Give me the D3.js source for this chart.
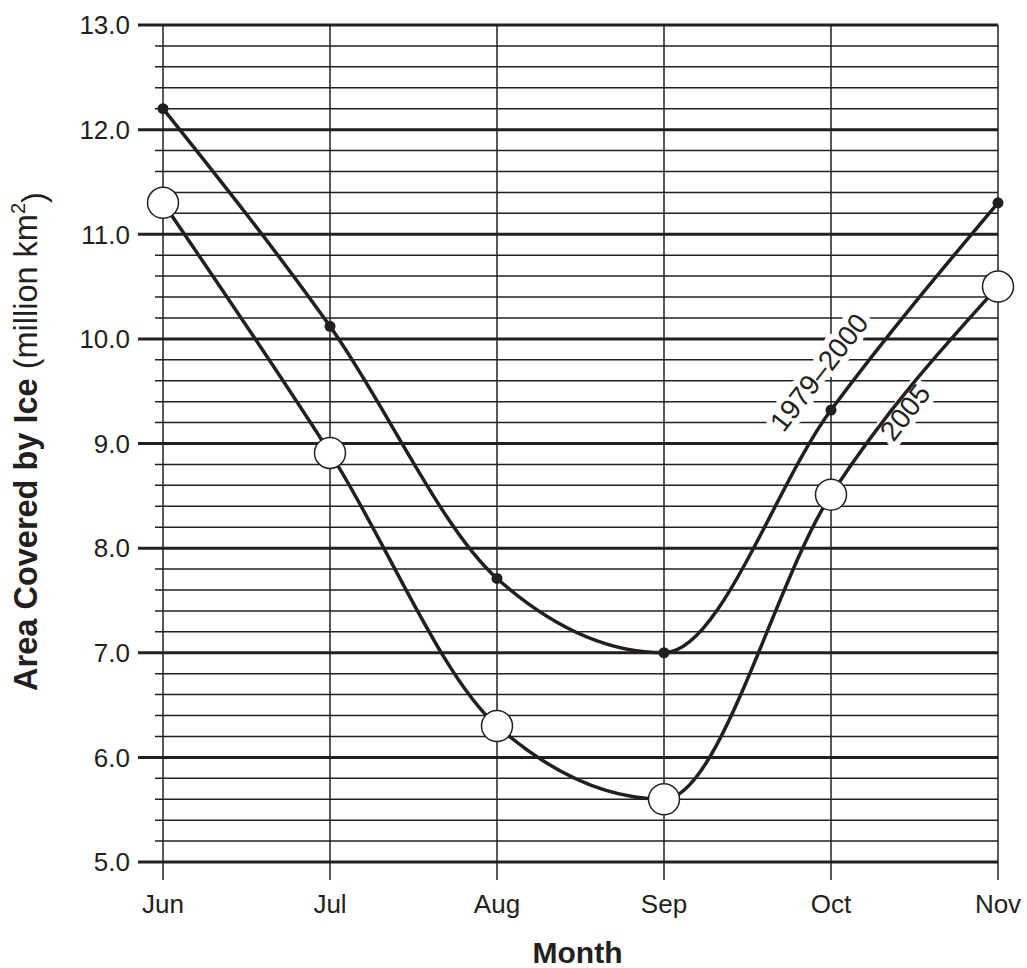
<!DOCTYPE html>
<html>
<head>
<meta charset="utf-8">
<script src="https://cdn.jsdelivr.net/npm/d3@7"></script>
<style>
  body { margin: 0; background: #fff; }
  text { font-family: "Liberation Sans", Arial, sans-serif; fill: #231f20; }
</style>
</head>
<body>
<div id="chart"></div>
<script>
var months = ["Jun", "Jul", "Aug", "Sep", "Oct", "Nov"];
var avg19792000 = [12.2, 10.12, 7.71, 7.0, 9.32, 11.3];
var ice2005 = [11.3, 8.91, 6.3, 5.6, 8.51, 10.5];
var yTicks = [5, 6, 7, 8, 9, 10, 11, 12, 13];

var W = 1027, H = 968;
var margin = {top: 25, right: 29, bottom: 106, left: 163},
  width = W - margin.left - margin.right,
  height = H - margin.top - margin.bottom;

var ink = "#231f20";

var svg = d3.select("#chart").append("svg")
    .attr("width", W)
    .attr("height", H)
  .append("g")
    .attr("transform", "translate(" + margin.left + "," + margin.top + ")");

var x = d3.scalePoint().domain(months).range([0, width]);
var y = d3.scaleLinear().domain([5, 13]).range([height, 0]);

// minor gridlines every 0.2
var minor = d3.range(5, 13.001, 0.2).filter(function(v) {
  return Math.abs(v - Math.round(v)) > 0.01;
});
svg.append("g").selectAll("line")
  .data(minor)
  .enter().append("line")
    .attr("x1", -8).attr("x2", width)
    .attr("y1", function(d) { return y(d); })
    .attr("y2", function(d) { return y(d); })
    .attr("stroke", ink).attr("stroke-width", 1.5);

// vertical month lines
svg.append("g").selectAll("line")
  .data(months)
  .enter().append("line")
    .attr("x1", function(d) { return x(d); })
    .attr("x2", function(d) { return x(d); })
    .attr("y1", 0).attr("y2", height + 18)
    .attr("stroke", ink).attr("stroke-width", 1.5);

// major gridlines
svg.append("g").selectAll("line")
  .data(yTicks)
  .enter().append("line")
    .attr("x1", -25).attr("x2", width)
    .attr("y1", function(d) { return y(d); })
    .attr("y2", function(d) { return y(d); })
    .attr("stroke", ink).attr("stroke-width", 3);

// y tick labels
svg.append("g").selectAll("text")
  .data(yTicks)
  .enter().append("text")
    .attr("x", -33)
    .attr("y", function(d) { return y(d); })
    .attr("dy", "0.36em")
    .attr("text-anchor", "end")
    .style("font-size", "26px")
    .text(function(d) { return d3.format(".1f")(d); });

// x tick labels
svg.append("g").selectAll("text")
  .data(months)
  .enter().append("text")
    .attr("x", function(d) { return x(d); })
    .attr("y", height + 51)
    .attr("text-anchor", "middle")
    .style("font-size", "26px")
    .text(function(d) { return d; });

// axis titles
svg.append("text")
  .attr("x", x("Aug") + (x("Sep") - x("Aug")) / 2 - 3)
  .attr("y", height + 101)
  .attr("text-anchor", "middle")
  .style("font-size", "30px")
  .style("font-weight", "bold")
  .text("Month");

var yt = svg.append("text")
  .attr("transform", "translate(" + (-126) + "," + (height / 2 - 2) + ") rotate(-90)")
  .attr("text-anchor", "middle")
  .style("font-size", "32.5px");
yt.append("tspan").style("font-weight", "bold").text("Area Covered by Ice ");
yt.append("tspan").text("(million km");
yt.append("tspan").attr("dy", "-0.6em").style("font-size", "20px").text("2");
yt.append("tspan").attr("dy", "0.6em").text(")");

var line = d3.line()
  .x(function(d, i) { return x(months[i]); })
  .y(function(d) { return y(d); })
  .curve(d3.curveMonotoneX);

// series labels with white halo
function seriesLabel(txt, cx, cy) {
  svg.append("text")
    .attr("transform", "translate(" + cx + "," + cy + ") rotate(-52)")
    .attr("text-anchor", "middle")
    .attr("dy", "0.35em")
    .style("font-size", "28px")
    .style("stroke", "#fff").style("stroke-width", 12)
    .style("stroke-linejoin", "round")
    .style("paint-order", "stroke")
    .text(txt);
}
seriesLabel("1979\u20132000", x("Oct") - 12, y(9.68));
seriesLabel("2005", x("Oct") + 74, y(9.3));

svg.append("path")
  .datum(avg19792000)
  .attr("d", line)
  .attr("fill", "none").attr("stroke", ink).attr("stroke-width", 3.5);

svg.append("path")
  .datum(ice2005)
  .attr("d", line)
  .attr("fill", "none").attr("stroke", ink).attr("stroke-width", 3.5);

svg.append("g").selectAll("circle")
  .data(avg19792000)
  .enter().append("circle")
    .attr("cx", function(d, i) { return x(months[i]); })
    .attr("cy", function(d) { return y(d); })
    .attr("r", 5.5)
    .attr("fill", ink);

svg.append("g").selectAll("circle")
  .data(ice2005)
  .enter().append("circle")
    .attr("cx", function(d, i) { return x(months[i]); })
    .attr("cy", function(d) { return y(d); })
    .attr("r", 15.5)
    .attr("fill", "#fff")
    .attr("stroke", ink).attr("stroke-width", 1.5);
</script>
</body>
</html>
